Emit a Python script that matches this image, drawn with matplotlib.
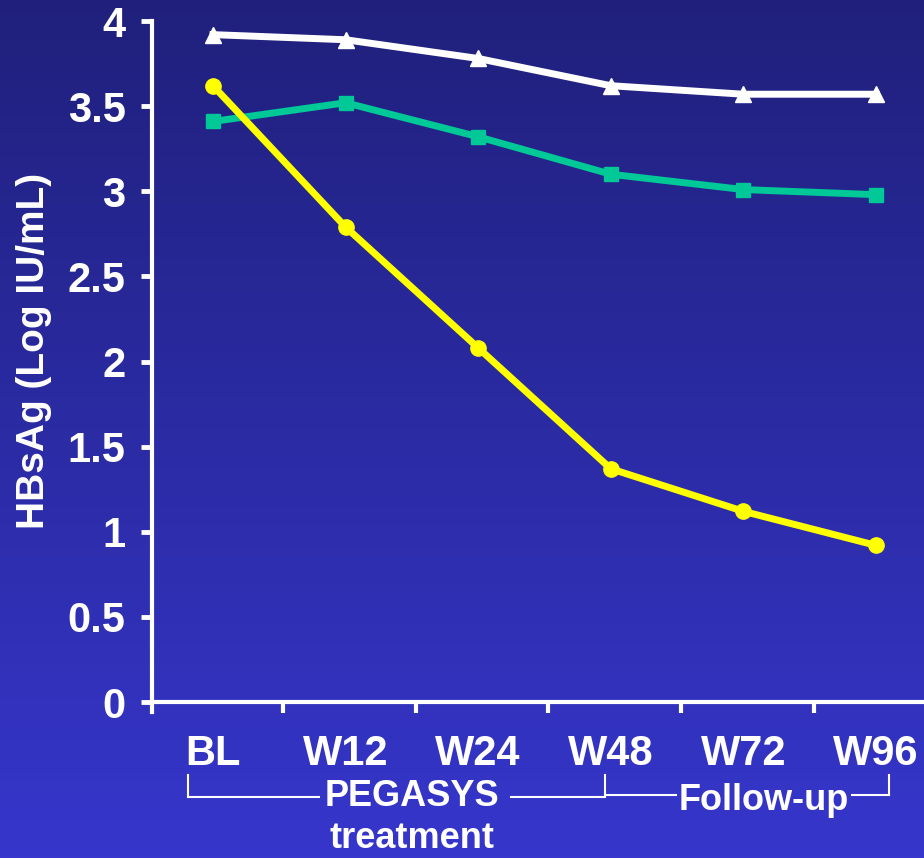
import numpy as np
import matplotlib.pyplot as plt
from matplotlib.transforms import blended_transform_factory

# data
weeks = ['BL', 'W12', 'W24', 'W48', 'W72', 'W96']
white_tri = [3.92, 3.89, 3.78, 3.62, 3.57, 3.57]
green_sq = [3.41, 3.52, 3.32, 3.10, 3.01, 2.98]
yellow_circ = [3.62, 2.79, 2.08, 1.37, 1.12, 0.92]
yticks = [0, 0.5, 1, 1.5, 2, 2.5, 3, 3.5, 4]
ytick_labels = ['0', '0.5', '1', '1.5', '2', '2.5', '3', '3.5', '4']

plt.rcParams['font.family'] = ['Liberation Sans', 'DejaVu Sans']
plt.rcParams['font.weight'] = 'bold'

fig = plt.figure(figsize=(9.24, 8.58), dpi=100)

# gradient background
bg = fig.add_axes([0, 0, 1, 1], zorder=-10)
grad = np.linspace(0, 1, 256).reshape(-1, 1, 1)
top = np.array([0x20, 0x20, 0x7c]) / 255
bot = np.array([0x36, 0x36, 0xcc]) / 255
img = top + (bot - top) * grad
bg.imshow(img, aspect='auto', extent=[0, 1, 0, 1])
bg.axis('off')

ax = fig.add_axes([152/924, 0.1699, 0.8553, 0.8056])
ax.patch.set_alpha(0)
x = np.arange(len(weeks))

ax.plot(x, green_sq, color='#00c896', lw=5, marker='s', ms=10.5, zorder=3, clip_on=False)
ax.plot(x, yellow_circ, color='#ffff00', lw=5, marker='o', ms=11, zorder=4, clip_on=False)
ax.plot(x, white_tri, color='white', lw=5, marker='^', ms=12, zorder=5, clip_on=False)

ax.set_xlim(-0.46, 5.5)
ax.set_ylim(-0.06, 4)

for s in ['top', 'right']:
    ax.spines[s].set_visible(False)
for s in ['left', 'bottom']:
    ax.spines[s].set_color('white')
    ax.spines[s].set_linewidth(3)
ax.spines['bottom'].set_position(('data', 0))

ax.set_yticks(yticks)
ax.set_yticklabels(ytick_labels)
ax.tick_params(axis='y', colors='white', length=8, width=3.5, labelsize=30, pad=11)

ax.set_xticks(x)
ax.set_xticklabels(weeks)
ax.set_xticks(x[:-1] + 0.53, minor=True)
ax.tick_params(axis='x', which='major', colors='white', length=0, labelsize=30, pad=23)
ax.tick_params(axis='x', which='minor', colors='white', length=8, width=3)

ax.set_ylabel('HBsAg (Log IU/mL)', color='white', fontsize=28, fontweight='bold')
ax.yaxis.set_label_coords(-0.127, 0.523)

# brackets under the axis
tr = blended_transform_factory(ax.transData, fig.transFigure)
y_top = 1 - 775/858
y_bot = 1 - 797/858
lw = 1.5
ax.plot([-0.19, -0.19], [y_top, y_bot], color='white', lw=lw, transform=tr, clip_on=False)
ax.plot([-0.19, 0.8], [y_bot, y_bot], color='white', lw=lw, transform=tr, clip_on=False)
ax.plot([2.25, 2.96], [y_bot, y_bot], color='white', lw=lw, transform=tr, clip_on=False)
ax.plot([2.96, 2.96], [y_top, y_bot], color='white', lw=lw, transform=tr, clip_on=False)
ax.plot([2.96, 3.49], [y_bot + 0.002, y_bot + 0.002], color='white', lw=lw, transform=tr, clip_on=False)
ax.plot([4.82, 5.1], [y_bot + 0.002, y_bot + 0.002], color='white', lw=lw, transform=tr, clip_on=False)
ax.plot([5.1, 5.1], [y_top, y_bot + 0.002], color='white', lw=lw, transform=tr, clip_on=False)

ax.text(1.5, 1 - 797/858, 'PEGASYS', color='white', fontsize=26, fontweight='bold',
        ha='center', va='center', transform=tr)
ax.text(1.5, 1 - 838/858, 'treatment', color='white', fontsize=26, fontweight='bold',
        ha='center', va='center', transform=tr)
ax.text(4.15, 1 - 801/858, 'Follow-up', color='white', fontsize=26, fontweight='bold',
        ha='center', va='center', transform=tr)

fig.savefig('out.png', dpi=100)
